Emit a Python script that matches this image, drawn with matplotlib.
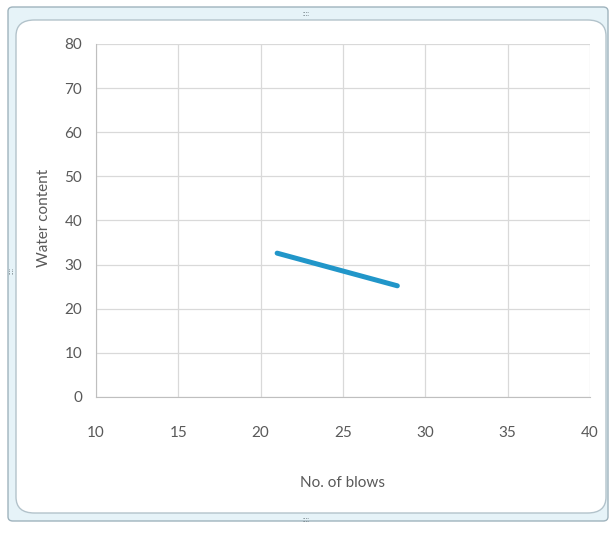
"""Liquid limit flow curve: water content against number of blows."""

import matplotlib.pyplot as plt
from matplotlib.patches import FancyBboxPatch

# Flow curve end points (trendline through the test results)
blows = [21.0, 28.3]
water_content = [32.6, 25.2]

x_ticks = [10, 15, 20, 25, 30, 35, 40]
y_ticks = [0, 10, 20, 30, 40, 50, 60, 70, 80]

plt.rcParams["font.family"] = ["Lato", "DejaVu Sans"]

W, H = 613, 533
fig = plt.figure(figsize=(W / 100, H / 100), dpi=100)


def fx(px):
    return px / W


def fy(py):
    return 1 - py / H


# chart frame: light outer band with a white rounded panel inside
outer = FancyBboxPatch((fx(8), fy(521)), fx(600), 514 / H,
                       boxstyle="round,pad=0,rounding_size=0.008",
                       transform=fig.transFigure, facecolor="#e6f3f8",
                       edgecolor="#9fb3bd", linewidth=1.0, zorder=-2)
inner = FancyBboxPatch((fx(16), fy(513)), fx(590), 493 / H,
                       boxstyle="round,pad=0,rounding_size=0.03",
                       transform=fig.transFigure, facecolor="white",
                       edgecolor="#b3c3cb", linewidth=1.0, zorder=-1)
fig.patches.extend([outer, inner])

# small grip dots on the frame
for x0, y0, txt, rot in [(306, 13, "::::", 0), (306, 519, "::::", 0), (11, 270, "::::", 90)]:
    fig.text(fx(x0), fy(y0), txt, ha="center", va="center", fontsize=5,
             color="#6c7a80", rotation=rot)

ax = fig.add_axes([fx(96), fy(397), fx(494), (397 - 44) / H])
ax.set_facecolor("white")
ax.plot(blows, water_content, color="#2196c9", linewidth=3.6,
        solid_capstyle="round", zorder=3)

ax.set_xlim(10, 40)
ax.set_ylim(0, 80)
ax.set_xticks(x_ticks)
ax.set_yticks(y_ticks)
ax.grid(True, color="#d9d9d9", linewidth=0.9)
ax.set_axisbelow(True)
for side in ["top", "right"]:
    ax.spines[side].set_visible(False)
for side in ["left", "bottom"]:
    ax.spines[side].set_color("#bfbfbf")
ax.tick_params(axis="both", length=0, labelcolor="#595959", labelsize=11)
ax.tick_params(axis="x", pad=21)
ax.tick_params(axis="y", pad=10)

fig.text(fx(343), fy(483), "No. of blows", ha="center", va="center",
         fontsize=11, color="#595959")
fig.text(fx(44), fy(218), "Water content", ha="center", va="center",
         rotation=90, fontsize=11, color="#595959")

fig.savefig("out.png", dpi=100)
